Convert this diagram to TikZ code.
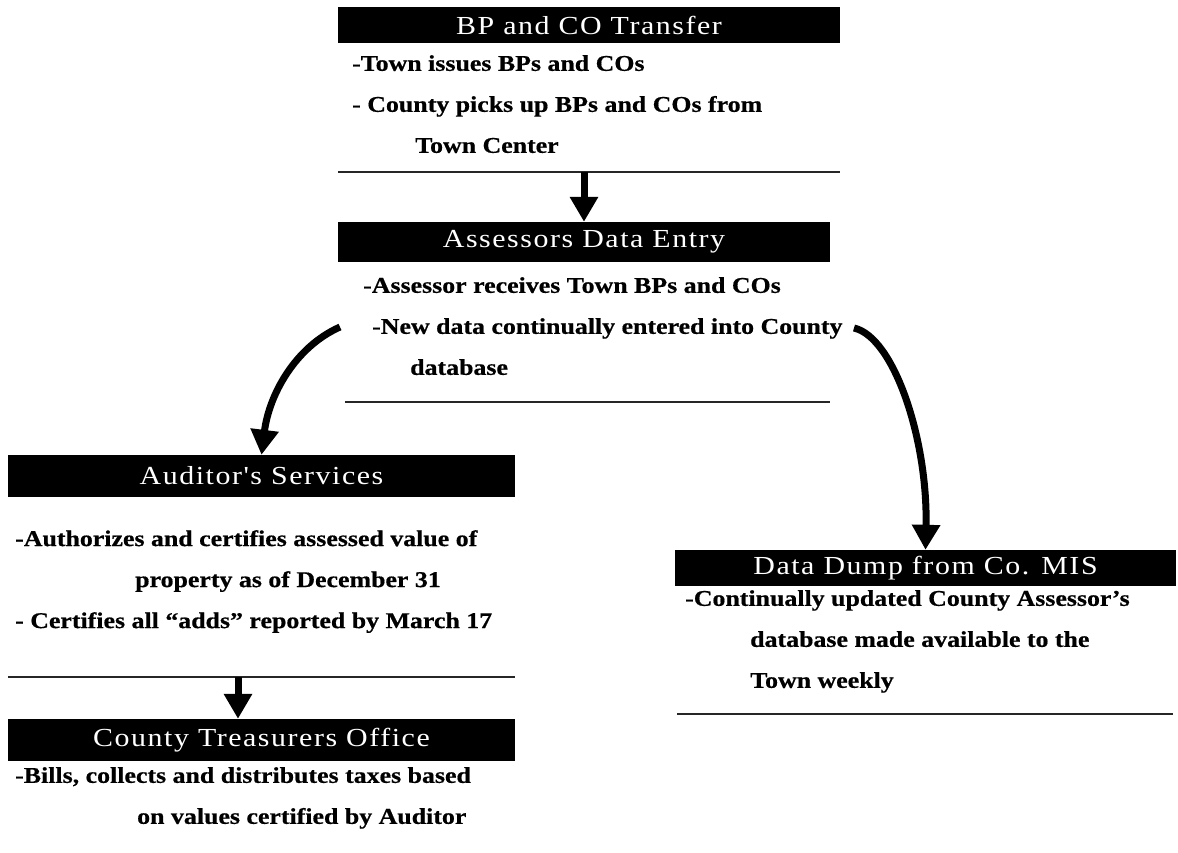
\documentclass[tikz,border=0pt]{standalone}
\usepackage{fontspec}
\setmainfont{Liberation Serif}
\newfontfamily\headfont[FakeStretch=1.15,LetterSpace=6]{Liberation Serif}
\newfontfamily\bodyfont[FakeStretch=1.15,BoldFeatures={FakeBold=0.6}]{Liberation Serif}
\usetikzlibrary{arrows.meta}

\begin{document}
\begin{tikzpicture}[x=1pt, y=-1pt,
  head/.style={fill=black, text=white, inner sep=0pt, font=\headfont\fontsize{26}{30}\selectfont},
  txt/.style={anchor=north west, inner sep=0pt, align=left, font=\bodyfont\bfseries\fontsize{22.5}{41}\selectfont},
  rule/.style={draw=black!85, line width=1.6pt},
  arr/.style={-{Triangle[width=27pt,length=25pt]}, line width=7pt}
]
  \useasboundingbox (0,0) rectangle (1178,852);

  \node[head, minimum width=502pt, minimum height=36pt] (bp) at (589,25) {BP and CO Transfer};
  \node[head, minimum width=492pt, minimum height=40pt] (ase) at (584,242) {Assessors Data Entry};
  \node[head, minimum width=507pt, minimum height=42pt] (aud) at (261.5,476) {Auditor's Services};
  \node[head, minimum width=507pt, minimum height=42pt] (tre) at (261.5,740) {County Treasurers Office};
  \node[head, minimum width=501pt, minimum height=36pt] (dump) at (925.5,568) {Data Dump from Co. MIS};

  \node[txt] (bpt) at (352,55) {-Town issues BPs and COs\\- County picks up BPs and COs from\\\hspace*{63pt}Town Center};
  \node[txt] (aset) at (363,277) {-Assessor receives Town BPs and COs\\\hspace*{9pt}-New data continually entered into County\\\hspace*{47pt}database};
  \node[txt] (audt) at (15,530) {-Authorizes and certifies assessed value of\\\hspace*{120pt}property as of December 31\\- Certifies all “adds” reported by March 17};
  \node[txt] (tret) at (15,767) {-Bills, collects and distributes taxes based\\\hspace*{122pt}on values certified by Auditor};
  \node[txt] (dumpt) at (685,590) {-Continually updated County Assessor’s\\\hspace*{65pt}database made available to the\\\hspace*{65pt}Town weekly};

  \coordinate (r1) at (589,172);
  \coordinate (r2) at (584,402);
  \coordinate (r3) at (238,677);
  \coordinate (r5) at (925,714);
  \coordinate (sl) at (340,327);
  \coordinate (sr) at (854,328);

  \draw[rule] (bp.west |- r1) -- (bp.east |- r1);
  \draw[rule] ([xshift=7pt]ase.west |- r2) -- (ase.east |- r2);
  \draw[rule] (aud.west |- r3) -- (aud.east |- r3);
  \draw[rule] ([xshift=2pt]dump.west |- r5) -- ([xshift=-3pt]dump.east |- r5);

  \draw[arr] (ase.north |- r1) -- (ase.north);
  \draw[arr] (r3) -- (r3 |- tre.north);
  \draw[arr] (sl) .. controls (295,347) and (269,395) .. (aud.north);
  \draw[arr] (sr) .. controls (894,337) and (928,440) .. (dump.north);
\end{tikzpicture}
\end{document}
